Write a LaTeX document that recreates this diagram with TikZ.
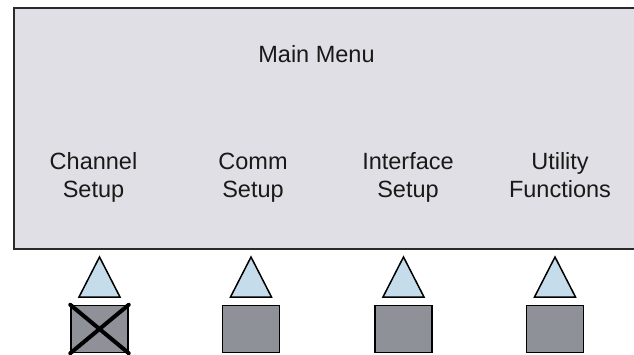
\documentclass[tikz,border=0pt]{standalone}
\usepackage{fontspec}
\setmainfont{Liberation Sans}
\definecolor{panelfill}{HTML}{E0DFE5}
\definecolor{keytri}{HTML}{C5DCEB}
\definecolor{keybox}{HTML}{8E9198}
\definecolor{panelline}{HTML}{2A2A2A}
\begin{document}
\begin{tikzpicture}[x=1pt,y=-1pt,
  lbl/.style={font=\fontsize{23.5}{28}\selectfont, align=center, text=black!90, inner sep=0pt},
  softkey/.style={draw=black, line width=1.5pt, fill=keybox, minimum width=57pt, minimum height=47pt, inner sep=0pt},
  pointer/.style={draw=black, line width=1.5pt, fill=keytri, line join=miter},
  cross/.style={draw=black, line width=4pt, line cap=round}]
  \useasboundingbox (0,0) rectangle (634,354);
  \clip (0,0) rectangle (634,354);
  % display panel, running off the right edge
  \draw[panelline, line width=2pt, fill=panelfill] (660,8) -- (14,8) -- (14,249) -- (660,249);
  \node[lbl, anchor=base] (title) at (316.5,62) {Main Menu};
  % soft-key captions
  \node[lbl, anchor=base] (l1) at (93.5,197) {Channel\\Setup};
  \node[lbl, anchor=base] (l2) at (253,197) {Comm\\Setup};
  \node[lbl, anchor=base] (l3) at (408,197) {Interface\\Setup};
  \node[lbl, anchor=base] (l4) at (560,197) {Utility\\Functions};
  % pointers and keys
  \foreach \i/\cx in {1/99.5, 2/251, 3/403.5, 4/555} {
    \draw[pointer] (\cx,257) -- (\cx+20.5,297) -- (\cx-20.5,297) -- cycle;
    \node[softkey] (k\i) at (\cx,329) {};
  }
  % disabled key
  \draw[cross] (k1.north west) -- (k1.south east);
  \draw[cross] (k1.north east) -- (k1.south west);
\end{tikzpicture}
\end{document}
